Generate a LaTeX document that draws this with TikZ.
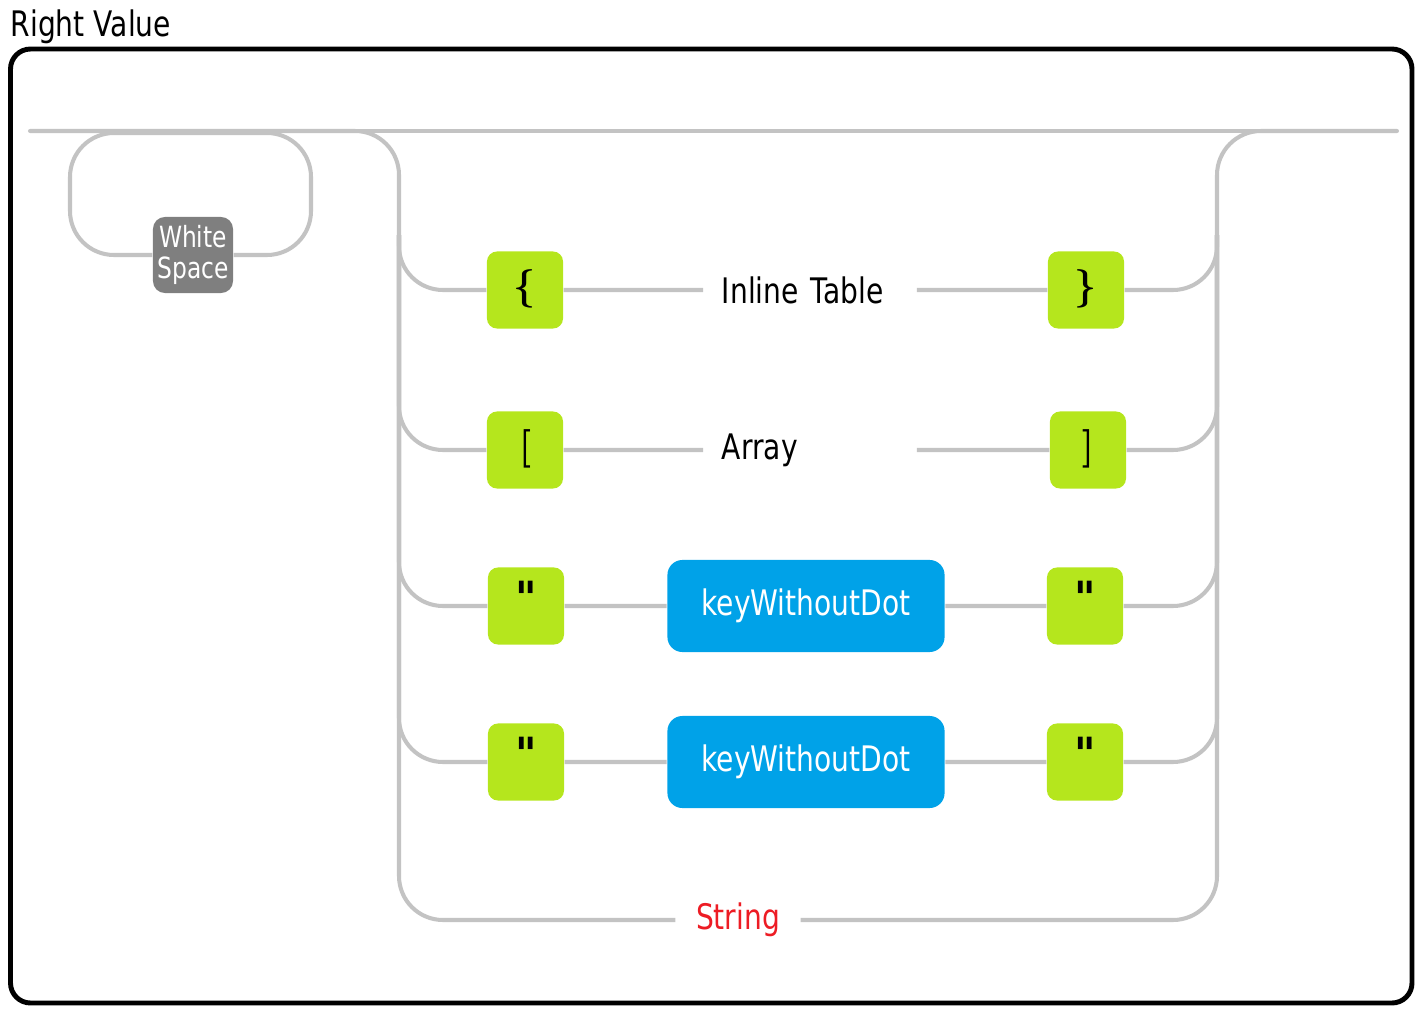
\documentclass[tikz,border=0pt]{standalone}
\usepackage{fontspec}
\setmainfont[FakeStretch=0.8]{DejaVu Sans}
\newfontfamily\quotefont[Ligatures=TeXOff,FakeStretch=0.9]{DejaVu Sans}
\usepackage{tikz}
\definecolor{railgray}{RGB}{195,195,195}
\definecolor{termgreen}{RGB}{181,230,29}
\definecolor{ntblue}{RGB}{0,162,232}
\definecolor{wsgray}{RGB}{127,127,127}
\definecolor{strred}{RGB}{237,28,36}
\newcommand{\dq}{{\quotefont\bfseries\fontsize{13}{13}\selectfont "}}
\tikzstyle{term}=[shape=rectangle,fill=termgreen,rounded corners=0.1cm,inner sep=0pt,minimum width=0.76cm,minimum height=0.77cm,text height=0.75em,text depth=0.25em,font=\fontsize{11}{13}\selectfont\boldmath]
\tikzstyle{nonterm}=[shape=rectangle,fill=ntblue,text=white,rounded corners=0.15cm,inner sep=0pt,minimum width=2.77cm,minimum height=0.92cm]
\tikzstyle{wsbox}=[shape=rectangle,fill=wsgray,text=white,rounded corners=0.12cm,inner sep=0pt,minimum width=0.8cm,minimum height=0.76cm,align=center,font=\fontsize{8.3}{9}\selectfont]
\tikzstyle{lbl}=[shape=rectangle,inner xsep=0.18cm,inner ysep=0pt,text width=1.76cm,align=left]
\tikzstyle{rail}=[draw=railgray,line width=1.15pt,rounded corners=0.44cm]

\begin{document}
\begin{tikzpicture}[x=0.01cm,y=-0.01cm,font=\fontsize{10}{12}\selectfont]
\useasboundingbox (0,0) rectangle (1424,1018);
\node[anchor=base west,inner sep=0pt] (title) at (10,37) {Right Value};
\draw[line width=1.4pt,rounded corners=0.2cm] (10.5,49) rectangle (1412,1003);

\coordinate (in) at (30,131);
\coordinate (out) at (1397,131);
\coordinate (lsplit) at (399,235);
\coordinate (rsplit) at (1217,235);
\coordinate (bl) at (399,920);
\coordinate (jr) at (1217,131);
\coordinate (wsl) at (70,133);
\coordinate (wsr) at (311,133);

\node[wsbox] (ws) at (193,255) {White\\Space};

\node[term] (ob) at (525,290) {$\{$};
\node[lbl] (it) at (810,290) {Inline Table};
\node[term] (cb) at (1086,290) {$\}$};

\node[term] (osb) at (525,450) {$[$};
\node[lbl] (arr) at (810,450) {Array};
\node[term] (csb) at (1088,450) {$]$};

\node[term] (qa1) at (526,606) {\dq};
\node[nonterm] (kwd1) at (806,606) {keyWithoutDot};
\node[term] (qa2) at (1085,606) {\dq};

\node[term] (qb1) at (526,762) {\dq};
\node[nonterm] (kwd2) at (806,762) {keyWithoutDot};
\node[term] (qb2) at (1085,762) {\dq};

\node[text=strred,inner xsep=0.2cm] (str) at (738,920) {String};

\draw[rail,line cap=round] (in) -- (out);
\draw[rail] (ws) -| (wsl) -- (wsr) |- (ws);
\draw[rail] (in) -| (bl) -- (str);
\draw[rail] (str) -| (jr) -- (out);

\draw[rail] (lsplit) |- (ob) (ob) -- (it) (it) -- (cb) (cb) -| (rsplit);
\draw[rail] (lsplit) |- (osb) (osb) -- (arr) (arr) -- (csb) (csb) -| (rsplit);
\draw[rail] (lsplit) |- (qa1) (qa1) -- (kwd1) (kwd1) -- (qa2) (qa2) -| (rsplit);
\draw[rail] (lsplit) |- (qb1) (qb1) -- (kwd2) (kwd2) -- (qb2) (qb2) -| (rsplit);
\end{tikzpicture}
\end{document}
